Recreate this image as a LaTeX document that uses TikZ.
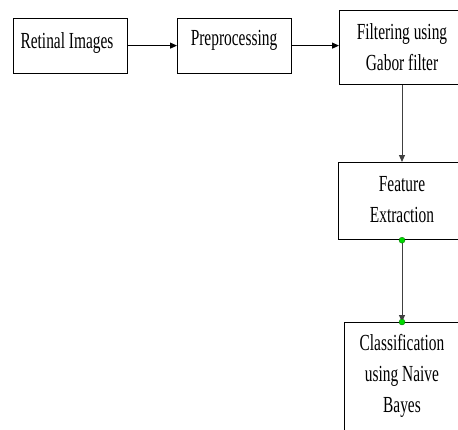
\documentclass[tikz,border=0pt]{standalone}
\usepackage{fontspec}
\setmainfont[FakeStretch=0.67]{Liberation Serif}
\usetikzlibrary{arrows.meta,calc}
\begin{document}
\begin{tikzpicture}[x=1pt,y=-1pt,
  box/.style={draw=black,line width=1.2pt,fill=white,inner sep=0pt,anchor=north west},
  txt/.style={font=\fontsize{23}{31}\selectfont,align=center,anchor=base,inner sep=0pt},
  conn/.style={line width=1pt,-{Triangle[length=7pt,width=6pt]}},
  dot/.style={circle,fill=green!85!black,draw=green!40!black,line width=0.3pt,inner sep=0pt,minimum size=6pt}]
\useasboundingbox[fill=white] (0,0) rectangle (458,429);
\node[box,minimum width=114pt,minimum height=55pt] (A) at (13,17.5) {};
\node[box,minimum width=114pt,minimum height=55pt] (B) at (177,17.5) {};
\node[box,minimum width=126pt,minimum height=74pt] (C) at (339,10) {};
\node[box,minimum width=128pt,minimum height=77pt] (D) at (338,162) {};
\node[box,minimum width=116pt,minimum height=130pt] (E) at (344,322) {};
\node[txt] (tA) at (67,48) {Retinal Images};
\node[txt] (tB) at (234,45) {Preprocessing};
\node[txt] (tC) at (402,70) {Filtering using\\Gabor filter};
\node[txt] (tD) at (402,222) {Feature\\Extraction};
\node[txt] (tE) at (402,412) {Classification\\using Naive\\Bayes};
\draw[conn] (A.east) -- (B.west);
\draw[conn] (B.east) -- (B.east -| C.west);
\draw[conn,draw=black!75] (C.south -| tC) -- (D.north -| tD);
\draw[conn,draw=black!75] (D.south -| tD) -- (E.north -| tE);
\node[dot] (d1) at (D.south -| tD) {};
\node[dot] (d2) at (E.north -| tE) {};
\end{tikzpicture}
\end{document}
